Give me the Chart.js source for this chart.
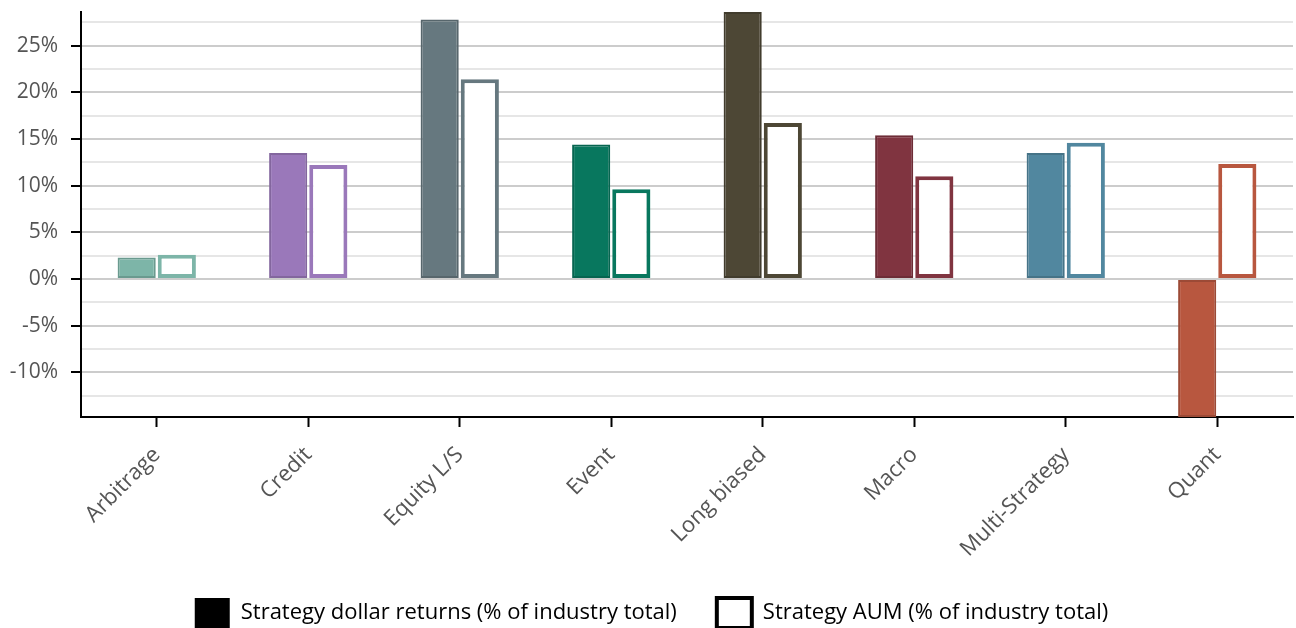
<!DOCTYPE html>
<html>
<head>
<meta charset="utf-8">
<script src="https://cdn.jsdelivr.net/npm/chart.js@4.4.0/dist/chart.umd.min.js"></script>
<style>
  html, body { margin: 0; padding: 0; background: #fff; }
  #wrap { width: 1296px; height: 628px; }
</style>
</head>
<body>
<div id="wrap"><canvas id="strategyChart" width="1296" height="628"></canvas></div>
<script>
// strategies on the x axis
const categories = ['Arbitrage', 'Credit', 'Equity L/S', 'Event', 'Long biased', 'Macro', 'Multi-Strategy', 'Quant'];
// % of industry total
const dollarReturns = [2.3, 13.5, 27.8, 14.4, 28.6, 15.4, 13.5, -14.8];
const aumShare = [2.6, 12.2, 21.4, 9.6, 16.7, 11.0, 14.6, 12.3];
const seriesNames = ['Strategy dollar returns (% of industry total)', 'Strategy AUM (% of industry total)'];
// y axis ticks (every 2.5%, labels on every 5%)
const yTicks = [-12.5, -10, -7.5, -5, -2.5, 0, 2.5, 5, 7.5, 10, 12.5, 15, 17.5, 20, 22.5, 25, 27.5];
const yMin = -14.8;
const yMax = 28.6;

const colors = ['#7db5a8', '#9a78ba', '#66787f', '#08775e', '#4d4735', '#803440', '#51879f', '#b8573f'];

// slightly darker edge for the filled bars
const darken = (hex, f) => {
  const n = parseInt(hex.slice(1), 16);
  const r = Math.round(((n >> 16) & 255) * f);
  const g = Math.round(((n >> 8) & 255) * f);
  const b = Math.round((n & 255) * f);
  return `rgb(${r},${g},${b})`;
};

const isMajor = v => Math.abs(v % 5) < 1e-6;
const fontFamily = "'Open Sans', 'Noto Sans', sans-serif";

const ctx = document.getElementById('strategyChart').getContext('2d');
new Chart(ctx, {
  type: 'bar',
  data: {
    labels: categories,
    datasets: [
      {
        label: seriesNames[0],
        data: dollarReturns,
        backgroundColor: colors,
        borderColor: colors.map(c => darken(c, 0.85)),
        borderWidth: 2,
        borderSkipped: false,
      },
      {
        label: seriesNames[1],
        data: aumShare,
        backgroundColor: '#ffffff',
        borderColor: colors,
        borderWidth: 4,
        borderSkipped: false,
      },
    ],
  },
  options: {
    responsive: false,
    animation: false,
    categoryPercentage: 0.53,
    barPercentage: 0.95,
    layout: { padding: { top: 12, right: 3, left: 10, bottom: -10 } },
    plugins: {
      tooltip: { enabled: false },
      legend: {
        position: 'bottom',
        labels: {
          font: { family: fontFamily, size: 22 },
          color: '#333',
          boxWidth: 35,
          boxHeight: 30,
          padding: 40,
          generateLabels: () => [
            { text: seriesNames[0], fillStyle: '#000', strokeStyle: '#000', lineWidth: 0, datasetIndex: 0 },
            { text: seriesNames[1], fillStyle: '#fff', strokeStyle: '#000', lineWidth: 4, datasetIndex: 1 },
          ],
        },
      },
    },
    scales: {
      x: {
        afterFit: scale => {
          scale.paddingLeft = 0;
          scale.paddingRight = 0;
          // fixed band height so the labels can sit lower
          scale.height = 141;
        },
        grid: {
          offset: false,
          drawOnChartArea: false,
          tickLength: 10,
          tickColor: '#000',
          tickWidth: 2,
        },
        border: { color: '#000', width: 2 },
        ticks: {
          color: '#555',
          font: { family: fontFamily, size: 22 },
          maxRotation: 45,
          minRotation: 45,
          padding: 15,
        },
      },
      y: {
        min: yMin,
        max: yMax,
        afterBuildTicks: scale => {
          scale.ticks = yTicks.map(v => ({ value: v }));
        },
        afterFit: scale => {
          scale.width = 71;
          scale.paddingTop = 0;
          scale.paddingBottom = 0;
        },
        grid: {
          color: c => (isMajor(c.tick.value) ? '#cccccc' : '#e6e6e6'),
          lineWidth: 2,
          tickLength: 10,
          tickWidth: 2,
          tickColor: c => (isMajor(c.tick.value) ? '#000' : 'rgba(0,0,0,0)'),
        },
        border: { color: '#000', width: 2 },
        ticks: {
          autoSkip: false,
          color: '#555',
          font: { family: fontFamily, size: 21 },
          padding: 13,
          callback: v => (isMajor(v) ? v + '%' : ''),
        },
      },
    },
  },
});
</script>
</body>
</html>
